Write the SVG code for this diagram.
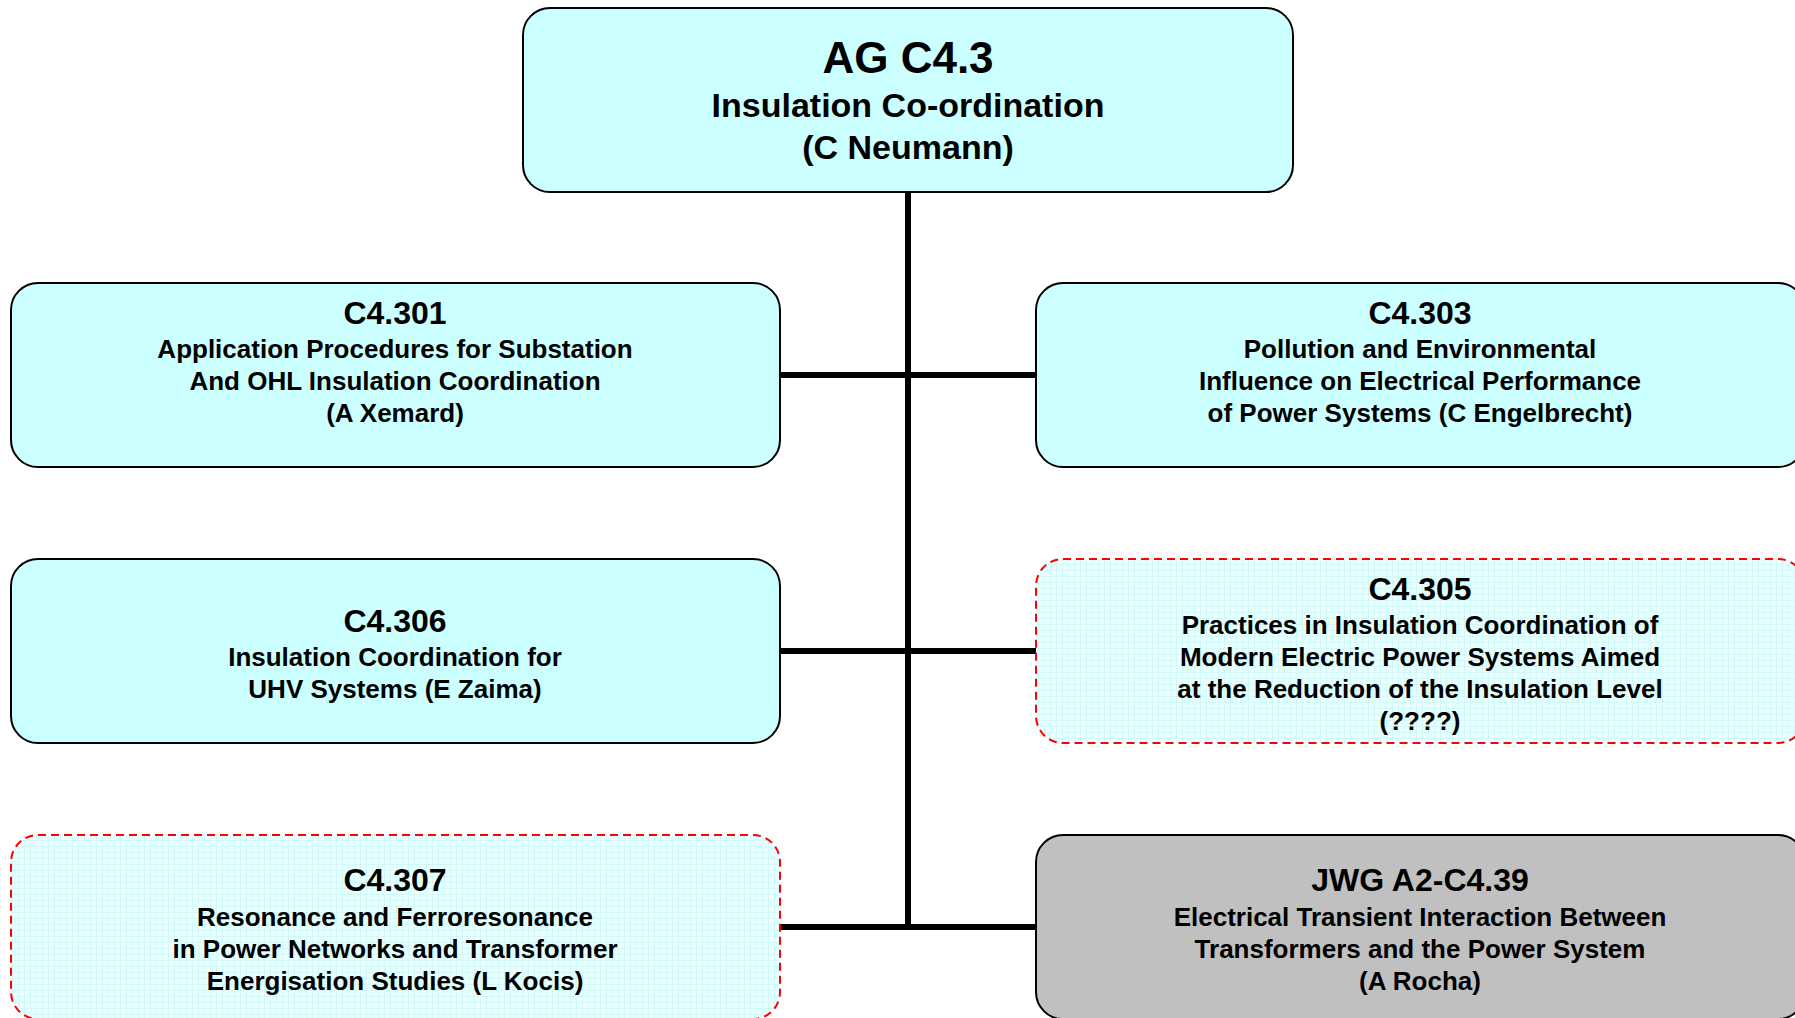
<svg xmlns="http://www.w3.org/2000/svg" width="1795" height="1018" viewBox="0 0 1795 1018">
<style>
text{font-family:"Liberation Sans",Arial,Helvetica,sans-serif;font-weight:bold;fill:#000;text-anchor:middle}
.t1{font-size:44px}
.t2{font-size:34px}
.h{font-size:32px}
.b{font-size:26px}
.box{fill:#CCFFFF;stroke:#000;stroke-width:2}
.gray{fill:#C0C0C0;stroke:#000;stroke-width:2}
.dash{fill:url(#grid);stroke:#FF0000;stroke-width:2;stroke-dasharray:8 5}
.conn{stroke:#000;stroke-width:6;fill:none}
</style>
<defs>
<pattern id="grid" width="6" height="6" patternUnits="userSpaceOnUse">
<rect width="6" height="6" fill="#E8FFFF"/>
<path d="M0 0.5H6M0.5 0V6" stroke="#D4F7F7" stroke-width="1"/>
</pattern>
</defs>
<rect width="1795" height="1018" fill="#FFFFFF"/>
<g id="connectors">
<line class="conn" x1="908" y1="192" x2="908" y2="930"/>
<line class="conn" x1="780" y1="375" x2="1036" y2="375"/>
<line class="conn" x1="780" y1="651" x2="1036" y2="651"/>
<line class="conn" x1="780" y1="927" x2="1036" y2="927"/>
</g>
<g id="ag-c4-3">
<rect class="box" x="523" y="8" width="770" height="184" rx="27"/>
<text class="t1" x="908" y="73">AG C4.3</text>
<text class="t2" x="908" y="117">Insulation Co-ordination</text>
<text class="t2" x="908" y="159">(C Neumann)</text>
</g>
<g id="c4-301">
<rect class="box" x="11" y="283" width="769" height="184" rx="27"/>
<text class="h" x="395" y="324">C4.301</text>
<text class="b" x="395" y="358">Application Procedures for Substation</text>
<text class="b" x="395" y="390">And OHL Insulation Coordination</text>
<text class="b" x="395" y="422">(A Xemard)</text>
</g>
<g id="c4-303">
<rect class="box" x="1036" y="283" width="769" height="184" rx="27"/>
<text class="h" x="1420" y="324">C4.303</text>
<text class="b" x="1420" y="358">Pollution and Environmental</text>
<text class="b" x="1420" y="390">Influence on Electrical Performance</text>
<text class="b" x="1420" y="422">of Power Systems (C Engelbrecht)</text>
</g>
<g id="c4-306">
<rect class="box" x="11" y="559" width="769" height="184" rx="27"/>
<text class="h" x="395" y="632">C4.306</text>
<text class="b" x="395" y="666">Insulation Coordination for</text>
<text class="b" x="395" y="698">UHV Systems (E Zaima)</text>
</g>
<g id="c4-305">
<rect class="dash" x="1036" y="559" width="769" height="184" rx="27"/>
<text class="h" x="1420" y="600">C4.305</text>
<text class="b" x="1420" y="634">Practices in Insulation Coordination of</text>
<text class="b" x="1420" y="666">Modern Electric Power Systems Aimed</text>
<text class="b" x="1420" y="698">at the Reduction of the Insulation Level</text>
<text class="b" x="1420" y="730">(????)</text>
</g>
<g id="c4-307">
<rect class="dash" x="11" y="835" width="769" height="184" rx="27"/>
<text class="h" x="395" y="891">C4.307</text>
<text class="b" x="395" y="926">Resonance and Ferroresonance</text>
<text class="b" x="395" y="958">in Power Networks and Transformer</text>
<text class="b" x="395" y="990">Energisation Studies (L Kocis)</text>
</g>
<g id="jwg-a2-c4-39">
<rect class="gray" x="1036" y="835" width="769" height="184" rx="27"/>
<text class="h" x="1420" y="891">JWG A2-C4.39</text>
<text class="b" x="1420" y="926">Electrical Transient Interaction Between</text>
<text class="b" x="1420" y="958">Transformers and the Power System</text>
<text class="b" x="1420" y="990">(A Rocha)</text>
</g>
</svg>
